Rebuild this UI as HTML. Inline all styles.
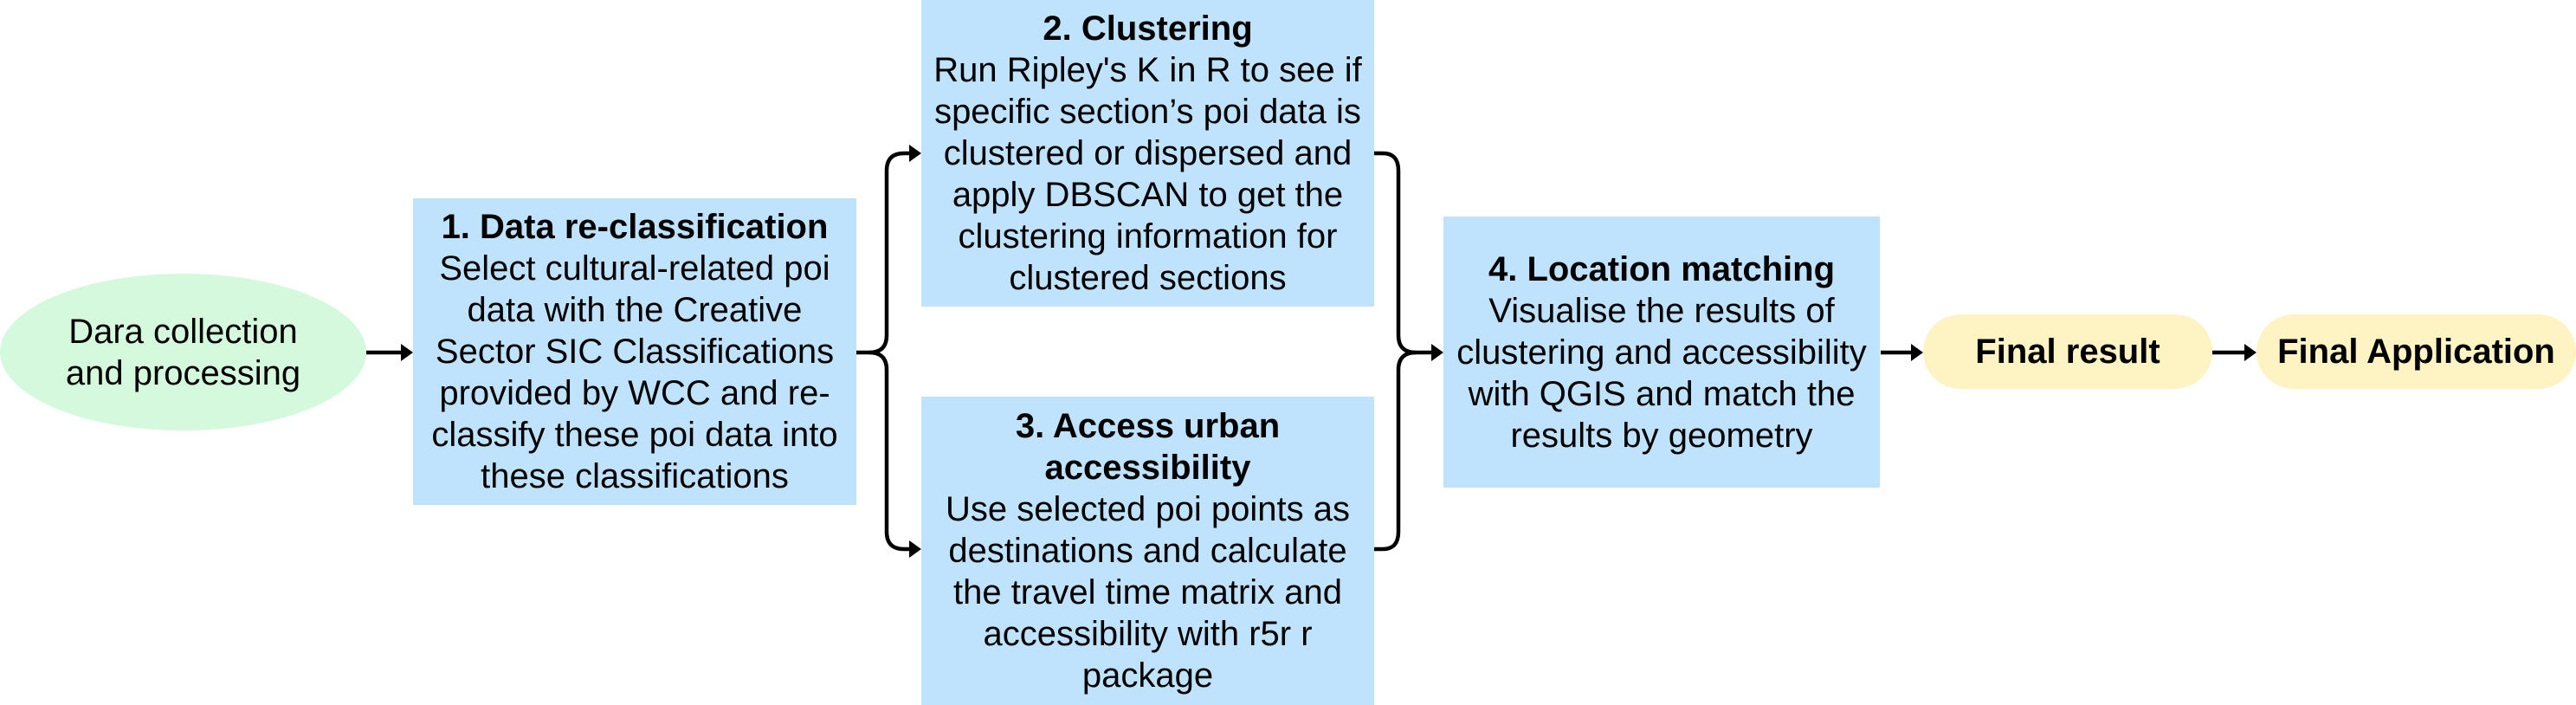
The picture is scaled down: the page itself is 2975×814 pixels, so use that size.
<!DOCTYPE html>
<html><head><meta charset="utf-8"><style>
html,body{margin:0;padding:0;background:#fff;}
body{width:2975px;height:814px;position:relative;overflow:hidden;font-family:"Liberation Sans",Arial,sans-serif;color:#000;}
.n{position:absolute;display:flex;flex-direction:column;justify-content:center;align-items:center;text-align:center;font-size:40px;line-height:48px;box-sizing:border-box;}
.b{background:#bfe3fd;}
.t{font-weight:bold;}
svg{position:absolute;left:0;top:0;}
</style></head><body>
<div class="n" style="left:0;top:316px;width:423px;height:181px;background:#d5f9dc;border-radius:50%;">Dara collection<br>and processing</div>
<div class="n b" style="left:477px;top:229px;width:512px;height:354px;"><span class="t">1. Data re-classification</span>Select cultural-related poi<br>data with the Creative<br>Sector SIC Classifications<br>provided by WCC and re-<br>classify these poi data into<br>these classifications</div>
<div class="n b" style="left:1064px;top:0;width:523px;height:354px;"><span class="t">2. Clustering</span>Run Ripley's K in R to see if<br>specific section’s poi data is<br>clustered or dispersed and<br>apply DBSCAN to get the<br>clustering information for<br>clustered sections</div>
<div class="n b" style="left:1064px;top:458px;width:523px;height:356px;"><span class="t">3. Access urban<br>accessibility</span>Use selected poi points as<br>destinations and calculate<br>the travel time matrix and<br>accessibility with r5r r<br>package</div>
<div class="n b" style="left:1667px;top:250px;width:504px;height:313px;"><span class="t">4. Location matching</span>Visualise the results of<br>clustering and accessibility<br>with QGIS and match the<br>results by geometry</div>
<div class="n t" style="left:2221px;top:363px;width:334px;height:86px;background:#fdf3c3;border-radius:43px;">Final result</div>
<div class="n t" style="left:2606px;top:363px;width:369px;height:86px;background:#fdf3c3;border-radius:43px;">Final Application</div>
<svg width="2975" height="814" viewBox="0 0 2975 814">
<g fill="none" stroke="#000" stroke-width="4.5">
<path d="M423 407H466"/>
<path d="M989 407H1004Q1024 407 1024 387V197Q1024 177 1044 177H1052"/>
<path d="M1004 407Q1024 407 1024 427V614Q1024 634 1044 634H1052"/>
<path d="M1587 177H1597Q1615 177 1615 197V387Q1615 407 1635 407H1655"/>
<path d="M1587 634H1597Q1615 634 1615 614V427Q1615 407 1635 407"/>
<path d="M2172 407H2210"/>
<path d="M2555 407H2595"/>
</g>
<g fill="#000">
<path d="M477 407L463 397V417Z"/>
<path d="M1064 177L1050 167V187Z"/>
<path d="M1064 634L1050 624V644Z"/>
<path d="M1667 407L1653 397V417Z"/>
<path d="M2221 407L2207 397V417Z"/>
<path d="M2606 407L2592 397V417Z"/>
</g>
</svg>
</body></html>
